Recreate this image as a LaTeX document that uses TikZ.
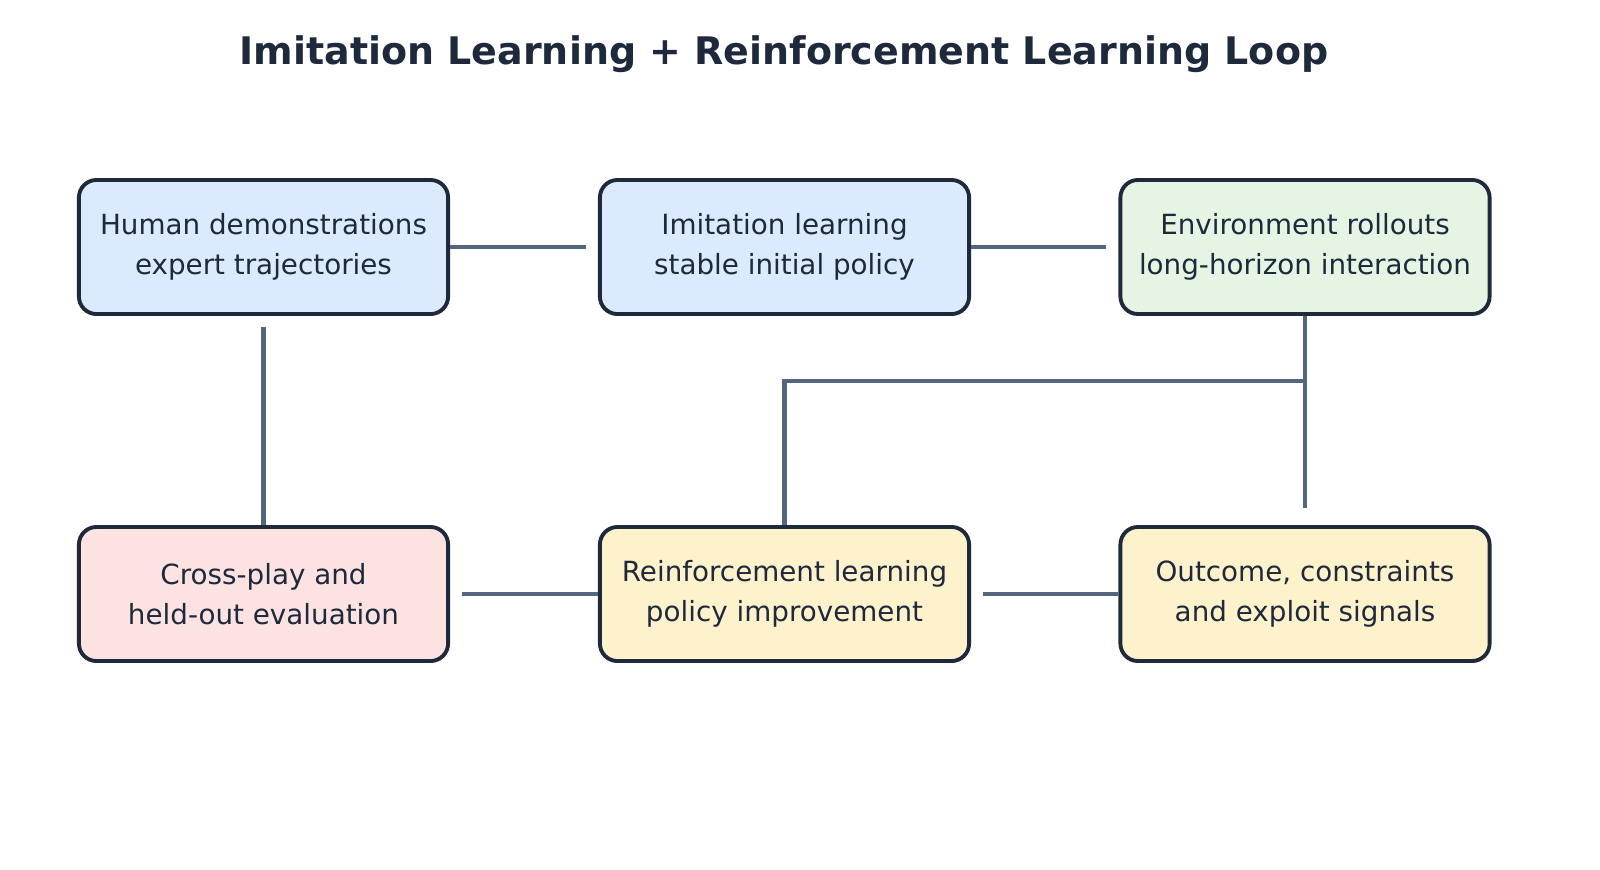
\documentclass[tikz,border=0pt]{standalone}
\usepackage{fontspec}
\setmainfont{DejaVu Sans}
\definecolor{ink}{HTML}{1E293B}
\definecolor{wire}{HTML}{52667F}
\definecolor{fblue}{HTML}{DBEAFE}
\definecolor{fgreen}{HTML}{E6F4E4}
\definecolor{fred}{HTML}{FDE2E2}
\definecolor{fyellow}{HTML}{FEF2CC}
\begin{document}
\begin{tikzpicture}
          [x=0.01cm,y=-0.01cm,
           every node/.style={draw=ink,line width=1.1pt,rounded corners=5pt,minimum width=3.69cm,minimum height=1.34cm,align=center,font=\fontsize{7.9pt}{11.4pt}\selectfont,text=ink},
           link/.style={draw=wire,line width=1.3pt}]

          \useasboundingbox (0,0) rectangle (1600,869);
          \node[draw=none,minimum size=0pt,font=\fontsize{10.8pt}{12pt}\selectfont\bfseries] (title) at (784,54) {Imitation Learning + Reinforcement Learning Loop};

          \node[fill=fblue] (human) at (263.5,247) {Human demonstrations\\expert trajectories};
          \node[fill=fblue] (imit) at (784.5,247) {Imitation learning\\stable initial policy};
          \node[fill=fgreen] (env) at (1305,247) {Environment rollouts\\long-horizon interaction};
          \node[fill=fred] (cross) at (263.5,594) {Cross-play and\\held-out evaluation};
          \node[fill=fyellow] (rl) at (784.5,594) {Reinforcement learning\\policy improvement};
          \node[fill=fyellow] (outcome) at (1305,594) {Outcome, constraints\\and exploit signals};
          \coordinate (split) at (1305,381);

          \draw[link,shorten >=12pt*0.2845] (human) -- (imit);
          \draw[link,shorten >=12pt*0.2845] (imit) -- (env);
          \draw[link,shorten <=11pt*0.2845] (human) -- (cross);
          \draw[link,shorten >=17pt*0.2845] (env) -- (outcome);
          \draw[link] (split) -| (rl);
          \draw[link,shorten <=12pt*0.2845] (cross) -- (rl);
          \draw[link,shorten <=12pt*0.2845] (rl) -- (outcome);
        \end{tikzpicture}
\end{document}
